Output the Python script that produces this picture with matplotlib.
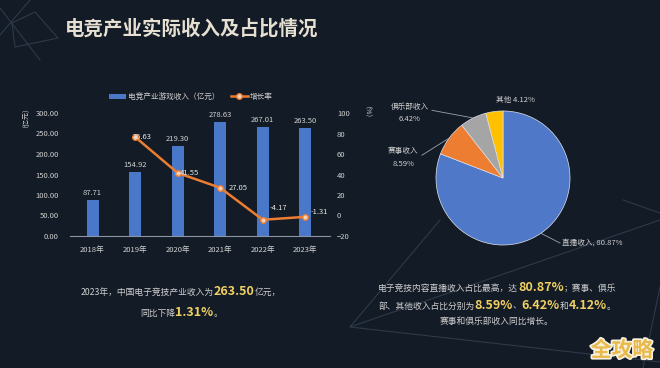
import numpy as np
import matplotlib
matplotlib.use("Agg")
import matplotlib.pyplot as plt
import matplotlib.patheffects as pe
from matplotlib.lines import Line2D

plt.rcParams['font.family'] = ['Noto Sans CJK SC', 'DejaVu Sans']

BG = "#131b26"
TXT = "#d0d0d0"
HL = "#f0d062"
BLUE = "#4a78c9"
ORANGE = "#ed7d31"

years = ["2018年", "2019年", "2020年", "2021年", "2022年", "2023年"]
revenue = [87.71, 154.92, 219.30, 278.63, 267.01, 263.50]
growth = [np.nan, 76.63, 41.55, 27.05, -4.17, -1.31]
growth_offsets = [None, (-2, 0), (2, 0), (9, 0), (7, 12), (5, 5)]

pie_labels = ["直播收入", "赛事收入", "俱乐部收入", "其他"]
pie_shares = [80.87, 8.59, 6.42, 4.12]
pie_colors = ["#4f78c8", "#ed7d31", "#a5a5a5", "#ffc000"]

W, H = 660, 368
fig = plt.figure(figsize=(W / 100, H / 100), dpi=100, facecolor=BG)


def fx(px):
    return px / W


def fy(py):
    return 1 - py / H


# faint background decoration
deco = [
    [(12, 23), (35, 12), (58, 38), (15, 47), (12, 23)],
    [(0, 8), (40, 60)],
    [(0, 35), (30, 0)],
    [(440, 220), (350, 327), (660, 220)],
    [(350, 327), (660, 362)],
    [(623, 200), (660, 213)],
    [(660, 287), (643, 368)],
]
for pts in deco:
    xs = [fx(p[0]) for p in pts]
    ys = [fy(p[1]) for p in pts]
    fig.add_artist(Line2D(xs, ys, transform=fig.transFigure, color="#2e3a4a",
                          lw=0.8, zorder=0))

fig.text(fx(65), fy(29), "电竞产业实际收入及占比情况", fontsize=14, weight="bold",
         color="#e6e0d2", va="center", ha="left")

# bar + line chart
ax = fig.add_axes([fx(70), fy(236), fx(330) - fx(70), fy(113) - fy(236)])
ax.set_facecolor("none")
x = np.arange(len(years))
bars = ax.bar(x, revenue, width=0.28, color=BLUE, label="电竞产业游戏收入（亿元）", zorder=2)
for xi, v in zip(x, revenue):
    ax.annotate(f"{v:.2f}", (xi, v), xytext=(0, 3), textcoords="offset pixels",
                ha="center", va="bottom", fontsize=5.5, color=TXT)
ax.set_xlim(-0.53, 5.58)
ax.set_ylim(0, 300)
ax.set_yticks(np.arange(0, 301, 50))
ax.set_yticklabels([f"{v:.2f}" for v in np.arange(0, 301, 50)])
ax.set_xticks(x)
ax.set_xticklabels(years)
ax.tick_params(length=0, labelsize=5.5, colors=TXT)
ax.tick_params(axis="y", pad=8)
ax.tick_params(axis="x", pad=7)
for s in ["top", "left", "right"]:
    ax.spines[s].set_visible(False)
ax.spines["bottom"].set_color("#8a95a5")
ax.spines["bottom"].set_linewidth(0.8)

ax2 = ax.twinx()
line, = ax2.plot(x, growth, color=ORANGE, lw=1.8, marker="o", markersize=4,
                 markerfacecolor="#f3d2b5", markeredgecolor=ORANGE, label="增长率", zorder=3)
for xi, v, off in zip(x, growth, growth_offsets):
    if off is None:
        continue
    ax2.annotate(f"{v:.2f}", (xi, v), xytext=off, textcoords="offset pixels",
                 ha="left", va="center", fontsize=5.5, color="#e6e6e6")
ax2.set_ylim(-20, 100)
ax2.set_yticks(np.arange(-20, 101, 20))
ax2.tick_params(length=0, labelsize=5.5, colors=TXT, pad=5)
for s in ["top", "left", "right", "bottom"]:
    ax2.spines[s].set_visible(False)

ax.legend(handles=[bars, line], loc="center", bbox_to_anchor=(0.465, 1.13), ncol=2,
          frameon=False, fontsize=5.5, labelcolor=TXT, handlelength=2.2,
          handleheight=0.6, columnspacing=1.5, handletextpad=0.3)

fig.text(fx(22), fy(114), "（亿元）", rotation=90, fontsize=5, color=TXT,
         ha="center", va="center")
fig.text(fx(363), fy(115), "（%）", rotation=270, fontsize=5, color=TXT,
         ha="center", va="center")

# pie chart
r = 67
cx, cy = 503, 178
pax = fig.add_axes([fx(cx - r), fy(cy + r), 2 * r / W, 2 * r / H])
pax.set_facecolor("none")
wedges, _ = pax.pie(pie_shares, colors=pie_colors, startangle=90, counterclock=False,
                    radius=1, wedgeprops=dict(edgecolor="#dfe3ea", linewidth=0.5))
pax.set_xlim(-1, 1)
pax.set_ylim(-1, 1)
pax.axis("off")

label_pos = [(0.88, -0.97, "left"), (-1.49, 0.30, "center"),
             (-1.39, 0.97, "center"), (0.18, 1.16, "center")]
elbows = [(0.85, -0.97), (-1.21, 0.34), (-1.06, 1.01), (0.0, 1.1)]
for w, name, share, (tx, ty, ha), (ex, ey) in zip(wedges, pie_labels, pie_shares,
                                                    label_pos, elbows):
    ang = np.deg2rad((w.theta1 + w.theta2) / 2)
    sx, sy = np.cos(ang), np.sin(ang)
    if name == "其他":
        txt = f"{name} {share:.2f}%"
    elif name == "直播收入":
        txt = f"{name}, {share:.2f}%"
    else:
        txt = f"{name}\n{share:.2f}%"
    if name != "其他":
        pax.plot([sx, ex], [sy, ey], color="#9aa3b0", lw=0.6, clip_on=False)
    pax.text(tx, ty, txt, ha=ha, va="center", fontsize=5.5, color=TXT,
             linespacing=1.8, clip_on=False)

# bottom text blocks
renderer = fig.canvas.get_renderer()


def rich_line(cx_px, base_px, parts):
    texts = []
    for s, hl in parts:
        if hl:
            t = fig.text(0, fy(base_px), s, fontsize=9, weight="bold", color=HL,
                         va="baseline", ha="left")
        else:
            t = fig.text(0, fy(base_px), s, fontsize=6.3, color=TXT,
                         va="baseline", ha="left")
        texts.append(t)
    widths = [t.get_window_extent(renderer).width for t in texts]
    pos = cx_px - sum(widths) / 2
    for t, wd in zip(texts, widths):
        t.set_x(fx(pos))
        pos += wd


rich_line(181, 295, [("2023年，中国电子竞技产业收入为", False), ("263.50", True), ("亿元，", False)])
rich_line(181, 316, [("同比下降", False), ("1.31%", True), ("。", False)])

rich_line(497, 291, [("电子竞技内容直播收入占比最高，达", False), ("80.87%", True),
                     ("；赛事、俱乐", False)])
rich_line(497, 309, [("部、其他收入占比分别为", False), ("8.59%", True), ("、", False),
                     ("6.42%", True), ("和", False), ("4.12%", True), ("。", False)])
rich_line(497, 324, [("赛事和俱乐部收入同比增长。", False)])

fig.text(fx(622), fy(350), "全攻略", fontsize=15, weight="bold", color="#e9b949",
         ha="center", va="center",
         path_effects=[pe.withStroke(linewidth=2.5, foreground="#f5f0e0")])

fig.savefig("out.png", dpi=100, facecolor=BG)
